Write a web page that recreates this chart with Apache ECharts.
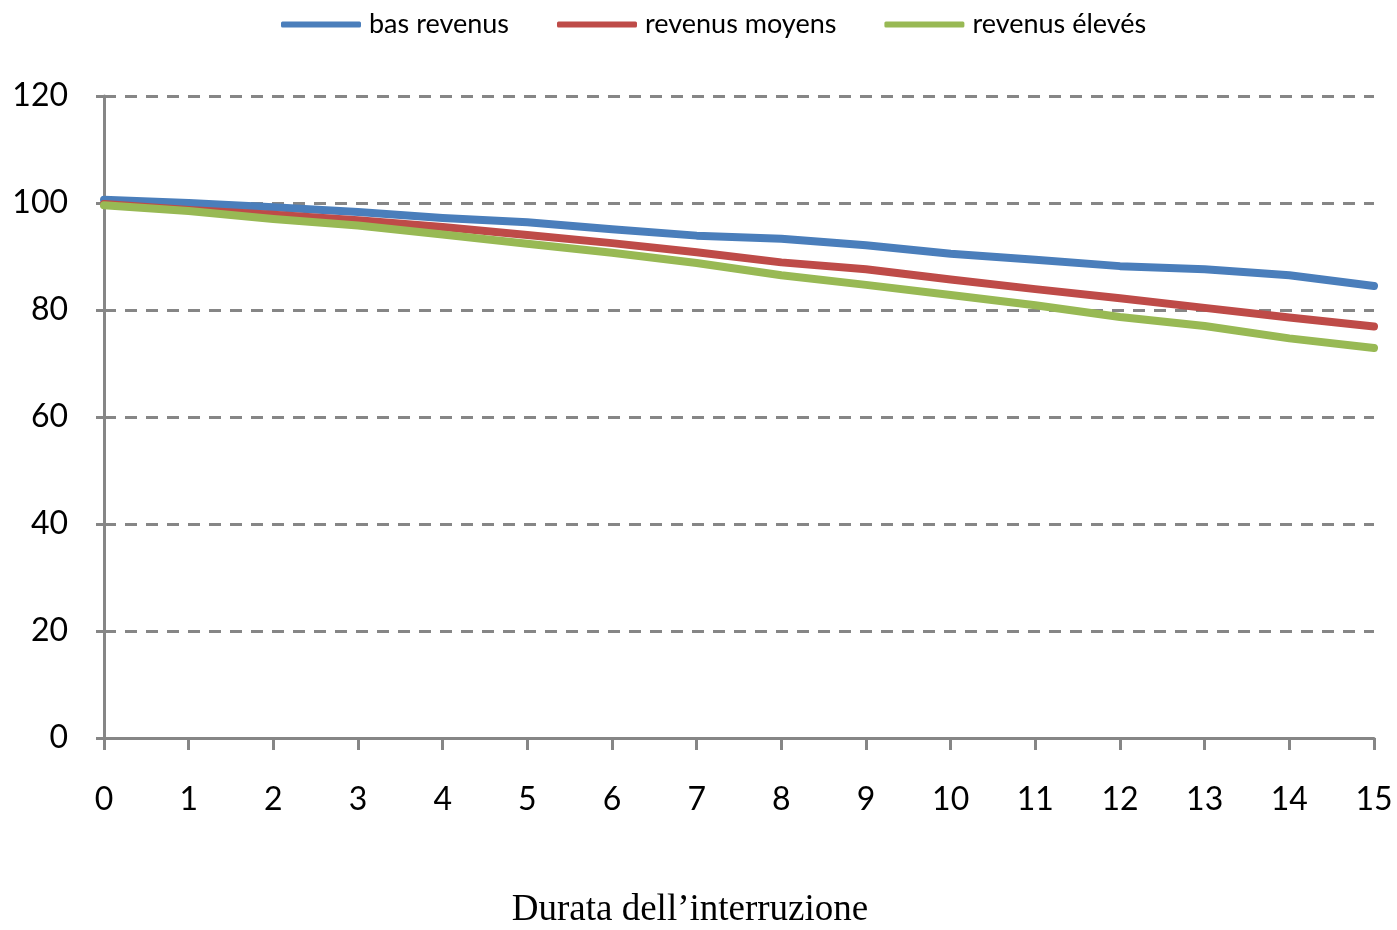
<!DOCTYPE html>
<html>
<head>
<meta charset="utf-8">
<script src="https://cdn.jsdelivr.net/npm/echarts@6/dist/echarts.min.js"></script>
<style>
  html, body { margin: 0; padding: 0; background: #fff; }
  #chart { width: 1397px; height: 930px; }
</style>
</head>
<body>
<div id="chart"></div>
<script>
// durata (categorie asse x)
var durata = ["0", "1", "2", "3", "4", "5", "6", "7", "8", "9", "10", "11", "12", "13", "14", "15"];

// valori
var basRevenus = [100.6, 100.0, 99.2, 98.3, 97.2, 96.4, 95.1, 93.9, 93.3, 92.1, 90.5, 89.4, 88.2, 87.6, 86.5, 84.5];
var revenusMoyens = [99.8, 98.7, 97.8, 96.8, 95.5, 94.0, 92.5, 90.8, 88.9, 87.6, 85.7, 83.9, 82.2, 80.4, 78.6, 76.9];
var revenusEleves = [99.6, 98.5, 97.0, 95.8, 94.1, 92.4, 90.7, 88.8, 86.5, 84.7, 82.8, 80.9, 78.7, 77.0, 74.7, 72.9];

var yTicks = [0, 20, 40, 60, 80, 100, 120];

var chart = echarts.init(document.getElementById("chart"));

function serie(name, data, color) {
  return {
    name: name,
    type: "line",
    data: data,
    showSymbol: false,
    symbol: "none",
    lineStyle: { color: color, width: 8, cap: "round", join: "round" },
    itemStyle: { color: color },
    z: 3
  };
}

chart.setOption({
  animation: false,
  legend: {
    top: 6,
    left: 276,
    icon: "roundRect",
    itemWidth: 80,
    itemHeight: 6,
    itemGap: 48,
    textStyle: { fontFamily: "Lato", fontSize: 27, color: "#000", padding: [0, 0, 0, 3] },
    data: ["bas revenus", "revenus moyens", "revenus élevés"]
  },
  grid: { left: 104, right: 23, top: 96, bottom: 192, outerBoundsMode: "none" },
  xAxis: {
    type: "category",
    data: durata,
    boundaryGap: false,
    name: "Durata dell\u2019interruzione",
    nameLocation: "middle",
    nameGap: 154,
    nameTextStyle: { fontFamily: "Liberation Serif", fontSize: 37, color: "#000", padding: [0, 98, 0, 0] },
    axisLine: { lineStyle: { color: "#868686", width: 3 } },
    axisTick: { show: true, length: 12, lineStyle: { color: "#868686", width: 3 } },
    axisLabel: { fontFamily: "Lato", fontSize: 32, color: "#000", margin: 46 },
    splitLine: { show: false }
  },
  yAxis: {
    type: "value",
    min: yTicks[0],
    max: yTicks[yTicks.length - 1],
    interval: 20,
    axisLine: { show: true, lineStyle: { color: "#868686", width: 3 } },
    axisTick: { show: true, length: 8, lineStyle: { color: "#868686", width: 3 } },
    axisLabel: { fontFamily: "Lato", fontSize: 32, color: "#000", margin: 36 },
    splitLine: { lineStyle: { color: "#868686", width: 3, type: [12, 9] } }
  },
  series: [
    serie("bas revenus", basRevenus, "#4A7EBB"),
    serie("revenus moyens", revenusMoyens, "#BE4B48"),
    serie("revenus élevés", revenusEleves, "#98B954")
  ]
});
</script>
</body>
</html>
